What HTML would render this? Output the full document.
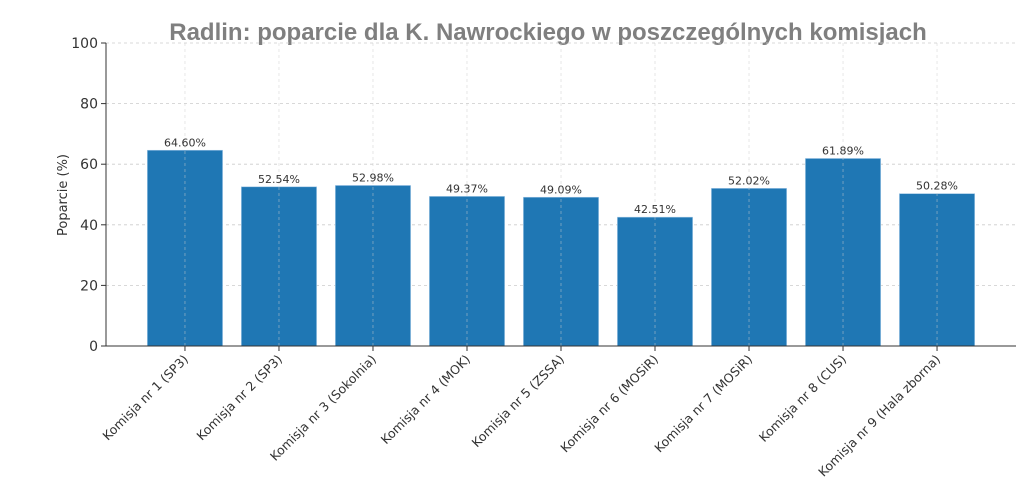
<!DOCTYPE html>
<html><head><meta charset="utf-8"><style>
body{margin:0;background:#fff;}
svg{display:block;font-family:"DejaVu Sans","Liberation Sans",sans-serif;}
</style></head><body>
<svg id="c" width="1024" height="491">
<text x="548" y="40" text-anchor="middle" font-size="24" font-weight="bold" fill="#7f7f7f" font-family="Liberation Sans, sans-serif">Radlin: poparcie dla K. Nawrockiego w poszczególnych komisjach</text>
<text transform="translate(67,195) rotate(-90)" text-anchor="middle" font-size="13" fill="#333">Poparcie (%)</text>
<g id="grid"></g><g id="bars"></g><g id="axes"></g>
</svg>
<script>
const categories=["Komisja nr 1 (SP3)","Komisja nr 2 (SP3)","Komisja nr 3 (Sokolnia)","Komisja nr 4 (MOK)","Komisja nr 5 (ZSSA)","Komisja nr 6 (MOSiR)","Komisja nr 7 (MOSiR)","Komisja nr 8 (CUS)","Komisja nr 9 (Hala zborna)"];
const values=[64.60,52.54,52.98,49.37,49.09,42.51,52.02,61.89,50.28];
const yTicks=[0,20,40,60,80,100];
const NS="http://www.w3.org/2000/svg";
const L=106,R=1016,T=43,B=346;
const n=categories.length, xmin=-0.84, xmax=n-1+0.84;
const x=i=>L+(i-xmin)/(xmax-xmin)*(R-L);
const y=v=>B-(v/100)*(B-T);
const bw=0.8*(R-L)/(xmax-xmin);
function mk(t,a,p){const e=document.createElementNS(NS,t);for(const k in a)e.setAttribute(k,a[k]);p.appendChild(e);return e;}
const grid=document.getElementById('grid'),bars=document.getElementById('bars'),axes=document.getElementById('axes');
yTicks.forEach(v=>{
 const g=mk('line',{x1:L,x2:R,y1:y(v),y2:y(v),stroke:'#ccc','stroke-dasharray':'3,3','stroke-width':0.8},grid);
 
 
 const tk=mk('line',{x1:L-5,x2:L,y1:y(v),y2:y(v),stroke:'#333'},axes);
 
 
 const t=mk('text',{x:L-8,y:y(v)+5,'text-anchor':'end','font-size':14,fill:'#333'},axes);
 t.textContent=v;
 
 
});
values.forEach((v,i)=>{
 const cx=x(i);
 const r=mk('rect',{x:cx-bw/2,y:y(v),width:bw,height:B-y(v),fill:'#1f77b4',stroke:'#9ec5e5','stroke-width':0.6},bars);
 
 
 const gv=mk('line',{x1:cx,x2:cx,y1:T,y2:B,stroke:'#ccc','stroke-dasharray':'3,3','stroke-width':0.8,opacity:0.6},axes);
 
 
 const lb=mk('text',{x:cx,y:y(v)-4,'text-anchor':'middle','font-size':11,fill:'#333'},axes);
 lb.textContent=v.toFixed(2)+'%';
 
 
 const tk=mk('line',{x1:cx,x2:cx,y1:B,y2:B+5,stroke:'#333'},axes);
 
 
 const ct=mk('text',{transform:`translate(${cx+4},${B+14}) rotate(-45)`,'text-anchor':'end','font-size':12.5,fill:'#333'},axes);
 ct.textContent=categories[i];
 
 
});
const ya=mk('line',{x1:L,x2:L,y1:T,y2:B,stroke:'#333','stroke-width':1},axes);


const xa=mk('line',{x1:L,x2:R,y1:B,y2:B,stroke:'#333','stroke-width':1},axes);


</script>
</body></html>
